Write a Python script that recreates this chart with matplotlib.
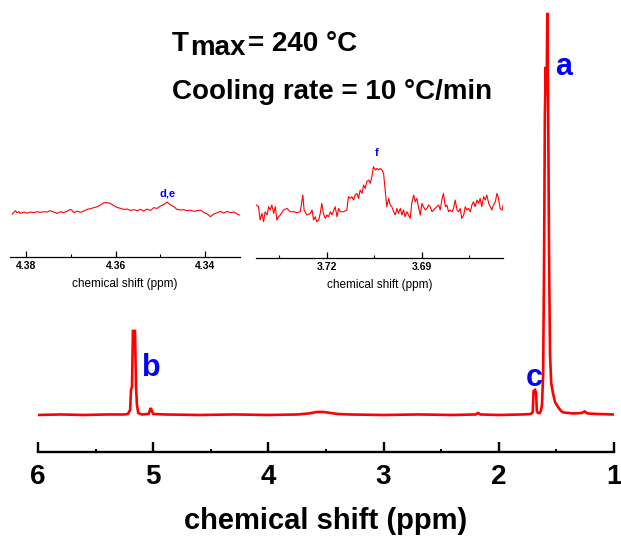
import matplotlib
matplotlib.use("Agg")
import matplotlib.pyplot as plt
from matplotlib.ticker import MultipleLocator

plt.rcParams['font.family'] = ['Liberation Sans', 'DejaVu Sans']

# main 1H NMR spectrum (ppm, intensity a.u.)
ppm_main = [6.00, 5.80, 5.60, 5.40, 5.25, 5.22, 5.20, 5.193, 5.184, 5.176, 5.158, 5.149,
            5.141, 5.13, 5.10, 5.04, 5.028, 5.020, 5.012, 5.00, 4.90, 4.60, 4.30, 4.00,
            3.75, 3.65, 3.58, 3.52, 3.46, 3.40, 3.30, 3.00, 2.70, 2.40, 2.20, 2.18, 2.16,
            2.00, 1.80, 1.72, 1.705, 1.698, 1.686, 1.676, 1.670, 1.660, 1.645, 1.635,
            1.625, 1.615, 1.607, 1.600, 1.592, 1.588, 1.584, 1.580, 1.578, 1.571, 1.563,
            1.555, 1.545, 1.530, 1.512, 1.486, 1.460, 1.44, 1.35, 1.28, 1.255, 1.23,
            1.15, 1.00]
int_main = [0, 0.5, 0, 0.5, 0.5, 1, 5, 25, 28, 84, 84, 28,
            10, 2, 0.5, 1, 5, 7, 4, 1, 0.5, 0, 0.5, 0,
            0.5, 1.5, 3, 3, 2, 1, 0.5, 0, 0.5, 0, 0.5, 2, 0.5,
            0, 0.5, 1, 3, 24, 25, 22, 4, 2, 2, 4,
            10, 40, 150, 300, 348, 320, 330, 390, 402, 300, 150,
            60, 32, 22, 13, 8, 4, 2.5, 1.5, 2, 3.5, 1.5,
            1, 0.5]

# inset 1: 4.33-4.38 ppm region (d,e)
ppm_de = [4.3831, 4.3824, 4.3820, 4.3816, 4.3813, 4.3805, 4.3798, 4.3790, 4.3783, 4.3775,
          4.3768, 4.3761, 4.3753, 4.3746, 4.3738, 4.3731, 4.3723, 4.3716, 4.3708, 4.3701,
          4.3697, 4.3693, 4.3686, 4.3679, 4.3671, 4.3664, 4.3656, 4.3649, 4.3641, 4.3634,
          4.3626, 4.3619, 4.3612, 4.3604, 4.3597, 4.3589, 4.3582, 4.3574, 4.3567, 4.3559,
          4.3552, 4.3544, 4.3537, 4.3530, 4.3522, 4.3515, 4.3507, 4.3500, 4.3492, 4.3485,
          4.3477, 4.3470, 4.3463, 4.3455, 4.3448, 4.3440, 4.3433, 4.3425, 4.3418, 4.3410,
          4.3403, 4.3395, 4.3388, 4.3381, 4.3373, 4.3366, 4.3358, 4.3351, 4.3343, 4.3336,
          4.3328, 4.3321]
int_de = [-1.7, 1.7, -0.3, 0.7, -1, 0.3, -0.7, 0.3, -0.3, 0.7,
          0, 0.7, 0.3, 1.7, 0.3, -1, 0.7, -0.3, 1.3, 3,
          1.7, -0.3, 1.3, 0, 1.3, 3, 3.7, 4.7, 5.7, 7.3,
          9.7, 9.7, 9, 6.7, 5, 4, 3, 3.3, 2, 2.7,
          1.7, 3, 1.3, 3.3, 2, 4.7, 4, 6.3, 8, 10.3,
          7.3, 5.7, 3, 2.3, 2.7, 1.7, 2.3, 1, 1.7, 2.3,
          0, -1.7, -4.3, -1.7, -0.3, 1, -0.7, 1, -0.3, 0.3,
          -1.7, -3]

# inset 2: 3.66-3.74 ppm region (f)
ppm_f = [3.7423, 3.7416, 3.7411, 3.7405, 3.7400, 3.7395, 3.7389, 3.7384, 3.7379, 3.7374,
         3.7368, 3.7363, 3.7358, 3.7353, 3.7347, 3.7337, 3.7326, 3.7316, 3.7305, 3.7295,
         3.7284, 3.7279, 3.7276, 3.7272, 3.7263, 3.7253, 3.7247, 3.7242, 3.7237, 3.7232,
         3.7226, 3.7221, 3.7216, 3.7211, 3.7205, 3.7200, 3.7195, 3.7189, 3.7184, 3.7174,
         3.7168, 3.7163, 3.7158, 3.7147, 3.7137, 3.7132, 3.7126, 3.7121, 3.7116, 3.7111,
         3.7105, 3.7100, 3.7095, 3.7089, 3.7084, 3.7079, 3.7074, 3.7068, 3.7063, 3.7058,
         3.7053, 3.7047, 3.7042, 3.7037, 3.7032, 3.7026, 3.7021, 3.7016, 3.7011, 3.7005,
         3.7000, 3.6995, 3.6989, 3.6984, 3.6979, 3.6974, 3.6968, 3.6963, 3.6958, 3.6953,
         3.6947, 3.6942, 3.6937, 3.6932, 3.6926, 3.6921, 3.6916, 3.6911, 3.6905, 3.6900,
         3.6895, 3.6889, 3.6884, 3.6879, 3.6874, 3.6868, 3.6863, 3.6858, 3.6853, 3.6847,
         3.6842, 3.6837, 3.6832, 3.6826, 3.6821, 3.6816, 3.6811, 3.6805, 3.6800, 3.6795,
         3.6789, 3.6784, 3.6779, 3.6774, 3.6768, 3.6763, 3.6758, 3.6753, 3.6747, 3.6742,
         3.6737, 3.6732, 3.6726, 3.6721, 3.6716, 3.6711, 3.6705, 3.6700, 3.6695, 3.6689,
         3.6684, 3.6679, 3.6674, 3.6668, 3.6663, 3.6658, 3.6653, 3.6647, 3.6642]
int_f = [6.7, 5, -8.3, -1.7, -10, 0, -3.3, 5, 1.7, 6.7,
         -1.7, 5, -8.3, -5, -3.3, 1.7, 3.3, 0, 0, -1,
         0, 10, 16.7, 1.7, -3.3, -1.7, 1.7, -8.3, -5, -10,
         -8.3, -1.7, 8.3, -1.7, -6.7, -3.3, -5, 0, -3.3, 5,
         -5, 3.3, 0, 0, 1.7, 15, 13.3, 15, 11.7, 16.7,
         18.3, 13.3, 21.7, 18.3, 26.7, 23.3, 30, 31.7, 28.3, 35,
         45, 41.7, 43.3, 41.7, 43.3, 41.7, 38.3, 21.7, 5, 13.3,
         6.7, 5, 0, -3.3, 3.3, -1.7, 3.3, -3.3, 1.7, -5,
         0, -3.3, -6.7, 8.3, 16.7, 10, 13.3, 5, -3.3, 8.3,
         5, 1.7, 3.3, 6.7, 5, 0, 1.7, 3.3, 5, 6.7,
         1.7, 11.7, 18.3, 5, 6.7, 0, 1.7, 0, 3.3, 11.7,
         1.7, 0, 3.3, -6.7, -3.3, 5, 1.7, 3.3, 0, 6.7,
         10, 5, 11.7, 8.3, 13.3, 5, 15, 11.7, 16.7, 8.3,
         5, 1.7, 6.7, 10, 18.3, 13.3, 3.3, 1.7, 8.3]

main_ticks = [6, 5, 4, 3, 2, 1]
de_ticks = [4.38, 4.36, 4.34]
f_ticks = [3.72, 3.69]

RED = '#ff0000'
BLUE = '#0000ff'

fig = plt.figure(figsize=(6.21, 5.40), dpi=100)

# ---- main spectrum
ax = fig.add_axes([0.0612, 0.163, 0.9275, 0.828])
ax.patch.set_alpha(0)
ax.plot(ppm_main, int_main, color=RED, lw=1.9, solid_joinstyle='miter')
ax.set_xlim(6, 1)
ax.set_ylim(-37, 410)
for s in ['top', 'left', 'right']:
    ax.spines[s].set_visible(False)
ax.spines['bottom'].set_linewidth(1.7)
ax.set_yticks([])
ax.set_xticks(main_ticks)
ax.xaxis.set_minor_locator(MultipleLocator(0.5))
ax.tick_params(axis='x', which='major', direction='in', length=7, width=1.7,
               labelsize=20, pad=9)
ax.tick_params(axis='x', which='minor', direction='in', length=2.5, width=1.4)
for lab in ax.get_xticklabels():
    lab.set_fontweight('bold')
ax.set_xlabel('chemical shift (ppm)', fontsize=21, fontweight='bold', labelpad=12)

ax.text(1.44, 348, 'a', color=BLUE, fontsize=22, fontweight='bold', ha='center', va='center')
ax.text(5.02, 47, 'b', color=BLUE, fontsize=22, fontweight='bold', ha='center', va='center')
ax.text(1.695, 37, 'c', color=BLUE, fontsize=22, fontweight='bold', ha='center', va='center')

# ---- title text
t1 = fig.text(172 / 621, 1 - 57 / 540, 'T', fontsize=20, fontweight='bold', va='bottom')
t2 = ax.annotate('max', xy=(1, 0), xycoords=t1, xytext=(1, -4), textcoords='offset pixels',
                 fontsize=20, fontweight='bold', va='bottom', ha='left')
ax.annotate('= 240 °C', xy=(1, 0), xycoords=t2, xytext=(3, 4), textcoords='offset pixels',
            fontsize=20, fontweight='bold', va='bottom', ha='left')
fig.text(172 / 621, 1 - 105 / 540, 'Cooling rate = 10 °C/min', fontsize=20,
         fontweight='bold', va='bottom')


def style_inset(a, ticks, minor):
    a.patch.set_alpha(0)
    for s in ['top', 'left', 'right']:
        a.spines[s].set_visible(False)
    a.spines['bottom'].set_linewidth(0.9)
    a.set_yticks([])
    a.set_xticks(ticks)
    a.xaxis.set_minor_locator(MultipleLocator(minor))
    a.tick_params(axis='x', which='major', direction='in', length=4, width=0.9,
                  labelsize=7.5, pad=3)
    a.tick_params(axis='x', which='minor', direction='in', length=2, width=0.8)
    for lab in a.get_xticklabels():
        lab.set_fontweight('bold')
    a.set_xlabel('chemical shift (ppm)', fontsize=8.5, labelpad=5)


# ---- inset d,e
ax1 = fig.add_axes([0.0161, 0.524, 0.3704, 0.198])
ax1.plot(ppm_de, int_de, color=RED, lw=0.8)
ax1.set_xlim(4.3836, 4.3322)
ax1.set_ylim(-44.7, 62.3)
style_inset(ax1, de_ticks, 0.01)
ax1.text(4.3485, 19, 'd,e', color=BLUE, fontsize=8, fontweight='bold', ha='center', va='center')

# ---- inset f
ax2 = fig.add_axes([0.4122, 0.5222, 0.3977, 0.2093])
ax2.plot(ppm_f, int_f, color=RED, lw=0.8)
ax2.set_xlim(3.7424, 3.6644)
ax2.set_ylim(-46.3, 66.7)
style_inset(ax2, f_ticks, 0.015)
ax2.text(3.7042, 59, 'f', color=BLUE, fontsize=8, fontweight='bold', ha='center', va='center')

fig.savefig('out.png', dpi=100)
